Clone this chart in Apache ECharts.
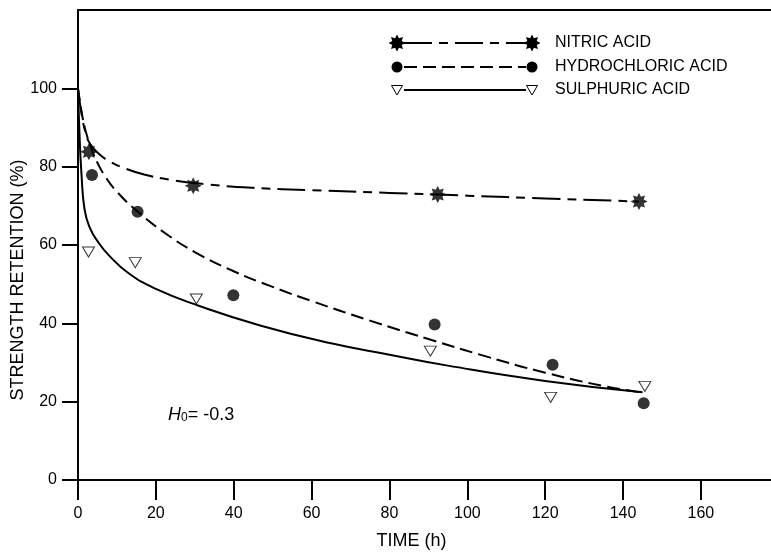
<!DOCTYPE html>
<html>
<head>
<meta charset="utf-8">
<script src="https://cdn.jsdelivr.net/npm/echarts@6/dist/echarts.min.js"></script>
<style>
html,body{margin:0;padding:0;background:#fff;}
#chart{width:771px;height:555px;}
</style>
</head>
<body>
<div id="chart"></div>
<script>
// ---- data ----
const xTickValues = [0, 20, 40, 60, 80, 100, 120, 140, 160];
const yTickValues = [0, 20, 40, 60, 80, 100];
const seriesNames = ['NITRIC ACID', 'HYDROCHLORIC ACID', 'SULPHURIC ACID'];
const xTitle = 'TIME (h)';
const yTitle = 'STRENGTH RETENTION (%)';

// measured points [time h, retention %]
const nitricPoints = [[2.8, 83.8], [29.6, 75.1], [92.4, 72.9], [144.1, 71.1]];
const hclPoints = [[3.6, 77.9], [15.3, 68.5], [39.9, 47.2], [91.6, 39.7], [121.9, 29.4], [145.3, 19.6]];
const sulphPoints = [[2.7, 58.2], [14.7, 55.5], [30.4, 46.2], [90.5, 32.9], [121.4, 21.1], [145.6, 23.9]];

// fitted curves
const nitricCurve = [[0, 100], [1, 93], [2, 88.5], [3, 86], [5, 83.6], [8, 81.4], [12, 79.6], [17, 78.0], [24, 76.6], [33, 75.5], [45, 74.6], [60, 74.0], [80, 73.3], [100, 72.6], [120, 71.9], [144, 71.1]];
const hclCurve = [[0, 100], [1, 93.5], [2, 89], [3.5, 84.5], [5, 81], [7, 77.5], [10, 73.6], [15, 68.8], [22, 63.3], [30, 58.2], [40, 53.3], [50, 49.3], [60, 45.7], [75, 40.7], [90, 36], [105, 31.5], [120, 27.4], [135, 24], [145, 22.3]];
const sulphCurve = [[0, 100], [0.4, 88], [0.9, 78], [1.7, 69], [3, 64.5], [5, 61], [8, 57.3], [13, 52.8], [20, 48.8], [31, 44.5], [47, 39.4], [65, 34.9], [80, 32], [95, 29.2], [120, 25.3], [145, 22.4]];

// ---- symbols ----
function starPoints(cx, cy, R, r) {
  const pts = [];
  for (let i = 0; i < 16; i++) {
    const a = i * Math.PI / 8 - Math.PI / 2;
    const rr = (i % 2 === 0) ? R : r;
    pts.push([cx + rr * Math.cos(a), cy + rr * Math.sin(a)]);
  }
  return pts;
}
const STAR = 'path://' + starPoints(50, 50, 50, 30)
  .map((p, i) => (i === 0 ? 'M' : 'L') + p[0].toFixed(2) + ' ' + p[1].toFixed(2)).join(' ') + ' Z';

const chart = echarts.init(document.getElementById('chart'), null, {renderer: 'canvas'});
const FONT = '"Liberation Sans", Arial, sans-serif';

const axisLineStyle = {color: '#000', width: 2};

const nitricDash = [28, 7, 9, 7];
const hclDash = [13, 6];

function legendGraphics() {
  const g = [];
  const rows = [
    {y: 43, sym: 'star', dash: nitricDash},
    {y: 67, sym: 'circle', dash: hclDash},
    {y: 90, sym: 'tri', dash: null}
  ];
  rows.forEach((r, i) => {
    g.push({type: 'line', shape: {x1: 404, y1: r.y, x2: 526, y2: r.y},
      style: {stroke: '#000', lineWidth: 2, lineDash: r.dash}});
    [397, 532].forEach(cx => {
      if (r.sym === 'star') {
        g.push({type: 'polygon', shape: {points: starPoints(cx, r.y, 8.5, 5.1)}, style: {fill: '#000'}});
      } else if (r.sym === 'circle') {
        g.push({type: 'circle', shape: {cx: cx, cy: r.y, r: 5.5}, style: {fill: '#000'}});
      } else {
        g.push({type: 'polygon', shape: {points: [[cx - 5.5, r.y - 4.5], [cx + 5.5, r.y - 4.5], [cx, r.y + 5]]},
          style: {fill: '#fff', stroke: '#000', lineWidth: 1}});
      }
    });
    g.push({type: 'text', x: 555, y: r.y,
      style: {text: seriesNames[i], font: '16px ' + FONT, fill: '#000', textVerticalAlign: 'middle'}});
  });
  // y axis title
  g.push({type: 'text', x: 18, y: 280, rotation: Math.PI / 2,
    style: {text: yTitle, font: '18px ' + FONT, fill: '#000', textAlign: 'center', textVerticalAlign: 'middle'}});
  // H0 annotation
  g.push({type: 'text', x: 168, y: 415,
    style: {
      text: '{i|H}{s|0}{n|= -0.3}',
      textVerticalAlign: 'middle',
      rich: {
        i: {font: 'italic 18px ' + FONT, fill: '#000'},
        s: {font: '12px ' + FONT, fill: '#000', verticalAlign: 'bottom', padding: [6, 0, 0, 0]},
        n: {font: '18px ' + FONT, fill: '#000'}
      }
    }});
  return g;
}

const curveLine = (data, type) => ({
  type: 'line', data: data, showSymbol: false, smooth: 0.5,
  lineStyle: {color: '#000', width: 2, type: type}, z: 2
});

const option = {
  animation: false,
  backgroundColor: '#fff',
  grid: {left: 78, right: 0, top: 10, bottom: 68, containLabel: false},
  xAxis: [{
    type: 'value', min: 0, max: 178, position: 'bottom',
    name: xTitle, nameLocation: 'middle', nameGap: 52,
    nameTextStyle: {fontFamily: FONT, fontSize: 18, color: '#000', padding: [0, 26, 0, 0]},
    axisLine: {show: true, onZero: false, lineStyle: axisLineStyle},
    axisTick: {show: true, length: 20, lineStyle: {color: '#000', width: 2}, customValues: xTickValues},
    axisLabel: {color: '#000', fontFamily: FONT, fontSize: 16, margin: 26, customValues: xTickValues},
    splitLine: {show: false}
  }, {
    type: 'value', min: 0, max: 178, position: 'top',
    axisLine: {show: true, onZero: false, lineStyle: axisLineStyle},
    axisTick: {show: false}, axisLabel: {show: false}, splitLine: {show: false}
  }],
  yAxis: {
    type: 'value', min: 0, max: 120,
    axisLine: {show: true, onZero: false, lineStyle: axisLineStyle},
    axisTick: {show: true, length: 16, lineStyle: {color: '#000', width: 2}, customValues: yTickValues},
    axisLabel: {color: '#000', fontFamily: FONT, fontSize: 16, margin: 21, customValues: yTickValues},
    splitLine: {show: false}
  },
  series: [
    Object.assign({name: seriesNames[0] + ' fit'}, curveLine(nitricCurve, nitricDash)),
    Object.assign({name: seriesNames[1] + ' fit'}, curveLine(hclCurve, hclDash)),
    Object.assign({name: seriesNames[2] + ' fit'}, curveLine(sulphCurve, 'solid')),
    {name: seriesNames[0], type: 'scatter', data: nitricPoints, symbol: STAR, symbolSize: 17,
      itemStyle: {color: '#000'}, z: 5},
    {name: seriesNames[1], type: 'scatter', data: hclPoints, symbol: 'circle', symbolSize: 12,
      itemStyle: {color: '#000'}, z: 5},
    {name: seriesNames[2], type: 'scatter', data: sulphPoints, symbol: 'triangle', symbolRotate: 180, symbolSize: [12, 10],
      itemStyle: {color: '#fff', borderColor: '#000', borderWidth: 1}, z: 5}
  ],
  graphic: legendGraphics()
};
chart.setOption(option);
</script>
</body>
</html>
